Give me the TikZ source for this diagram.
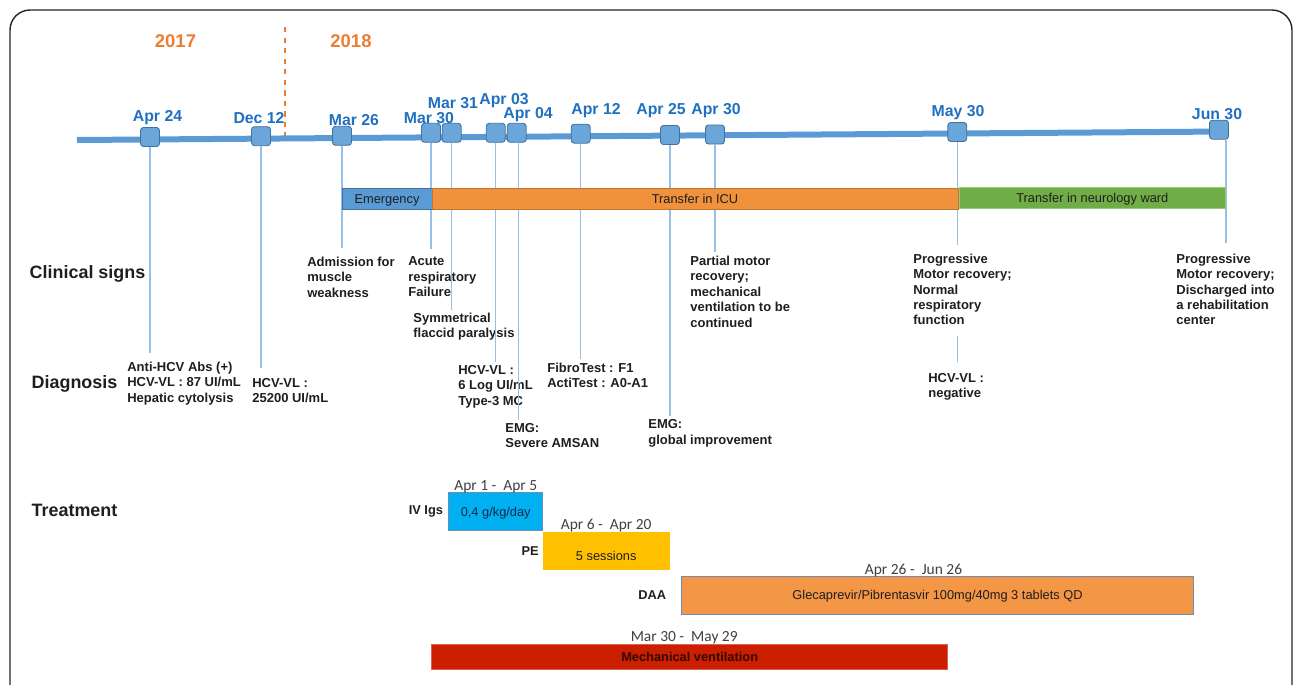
\documentclass[tikz,border=0pt]{standalone}
\usepackage{fontspec}
\setmainfont{Liberation Sans}
\newfontfamily\calibri{Carlito}
\usetikzlibrary{positioning,calc}
\definecolor{tlblue}{RGB}{91,155,213}
\definecolor{mkfill}{RGB}{107,166,218}
\definecolor{mkdraw}{RGB}{65,113,156}
\definecolor{tickblue}{RGB}{150,192,232}
\definecolor{datecol}{RGB}{31,112,193}
\definecolor{yearcol}{RGB}{237,125,49}
\definecolor{emcol}{RGB}{91,155,213}
\definecolor{icucol}{RGB}{240,145,60}
\definecolor{neurocol}{RGB}{112,173,71}
\definecolor{ivigcol}{RGB}{0,176,240}
\definecolor{ivigtext}{RGB}{20,40,70}
\definecolor{pecol}{RGB}{255,192,0}
\definecolor{daacol}{RGB}{243,150,70}
\definecolor{daadraw}{RGB}{110,140,180}
\definecolor{mvcol}{RGB}{204,30,0}
\definecolor{mvtext}{RGB}{50,10,0}
\definecolor{txtdark}{RGB}{30,30,30}
\definecolor{spangray}{RGB}{64,64,64}
\tikzset{
frame/.style = {draw=black!85, line width=0.8pt, rounded corners=0.4cm},
axis/.style = {draw=tlblue, line width=0.12cm},
yearsep/.style = {draw=yearcol, dashed, line width=0.8pt},
year/.style = {text=yearcol, font=\fontsize{10.5}{12}\selectfont\bfseries, inner sep=0pt},
marker/.style = {draw=mkdraw, fill=mkfill, rounded corners=0.06cm, minimum size=0.38cm, inner sep=0pt, line width=0.5pt},
datelbl/.style = {text=datecol, font=\fontsize{9}{10}\selectfont\bfseries, inner sep=0pt},
tick/.style = {draw=tickblue, line width=0.7pt},
desc/.style = {text=txtdark, font=\fontsize{7.4}{8.8}\selectfont\bfseries, align=left, anchor=north west, inner sep=0pt},
rowlbl/.style = {text=txtdark, font=\fontsize{10.2}{12}\selectfont\bfseries, inner sep=0pt},
phase/.style = {text=txtdark, font=\fontsize{7.3}{8}\selectfont, minimum height=0.42cm, inner sep=0pt, line width=0.4pt, text height=0.18cm, text depth=0pt},
treat/.style = {text=txtdark, font=\fontsize{7.3}{8}\selectfont, inner sep=0pt, line width=0.4pt, text height=0.18cm, text depth=0pt},
treatlbl/.style = {text=txtdark, font=\fontsize{7.3}{8}\selectfont\bfseries, inner sep=0pt},
span/.style = {text=spangray, font=\calibri\fontsize{8.8}{10}\selectfont, inner sep=0pt}
}
\begin{document}
\begin{tikzpicture}[x=0.02cm, y=-0.02cm, node distance=0.1cm]
    \useasboundingbox (0,0) rectangle (1295,684);
    \draw [frame] (10,10) rectangle (1292,740);
    \node [year] (y2017) at (175.5,41) {2017};
    \node [year] (y2018) at (351,41) {2018};
    \coordinate (septop) at (285,27);
    \coordinate (sepbot) at (285,138);
    \draw [yearsep] (septop) -- (sepbot);
    \coordinate (tlstart) at (77,140);
    \coordinate (tlend) at (1226,131.5);
    \draw [axis] (tlstart) -- (tlend);

    \node [marker] (apr24) at (150,137) {};
    \node [marker] (dec12) at (261,136.2) {};
    \node [marker] (mar26) at (342,135.8) {};
    \node [marker] (mar30) at (431,132.8) {};
    \node [marker] (mar31) at (451.7,132.8) {};
    \node [marker] (apr03) at (495.7,132.8) {};
    \node [marker] (apr04) at (516.7,132.8) {};
    \node [marker] (apr12) at (580.7,133.7) {};
    \node [marker] (apr25) at (670,135) {};
    \node [marker] (apr30) at (715,134.5) {};
    \node [marker] (may30) at (957.3,132) {};
    \node [marker] (jun30) at (1219,129.7) {};

    \node [datelbl] (lapr24) at (157.5,118) {Apr 24};
    \node [datelbl] (ldec12) at (259,118) {Dec 12};
    \node [datelbl] (lmar26) at (354,120) {Mar 26};
    \node [datelbl] (lmar30) at (429,118) {Mar 30};
    \node [datelbl] (lmar31) at (453,103.5) {Mar 31};
    \node [datelbl] (lapr03) at (504,100.5) {Apr 03};
    \node [datelbl] (lapr04) at (528,115) {Apr 04};
    \node [datelbl] (lapr12) at (596,111) {Apr 12};
    \node [datelbl] (lapr25) at (661,111) {Apr 25};
    \node [datelbl] (lapr30) at (716,111) {Apr 30};
    \node [datelbl] (lmay30) at (958,112.7) {May 30};
    \node [datelbl] (ljun30) at (1217,114) {Jun 30};

    \node [rowlbl] (clinical) at (87.5,274) {Clinical signs};
    \node [rowlbl] (diagnosis) at (74.5,384) {Diagnosis};
    \node [rowlbl] (treatment) at (74.5,510) {Treatment};

    \node [desc] (admission) at (307,256.5) {Admission for\\muscle\\weakness};
    \node [desc] (acute) at (408,256.5) {Acute\\respiratory\\Failure};
    \node [desc] (symmetric) at (413,312.3) {Symmetrical\\flaccid paralysis};
    \node [desc] (partial) at (690,255.7) {Partial motor\\recovery;\\mechanical\\ventilation to be\\continued};
    \node [desc] (progress1) at (913,253.3) {Progressive\\Motor recovery;\\Normal\\respiratory\\function};
    \node [desc] (progress2) at (1176,253.3) {Progressive\\Motor recovery;\\Discharged into\\a rehabilitation\\center};
    \node [desc] (antihcv) at (127,361.7) {Anti-HCV Abs (+)\\HCV-VL : 87 UI/mL\\Hepatic cytolysis};
    \node [desc] (vlhigh) at (252,377.7) {HCV-VL :\\25200 UI/mL};
    \node [desc] (vllog) at (458,365) {HCV-VL :\\6 Log UI/mL\\Type-3 MC};
    \node [desc] (emgsevere) at (505,422.7) {EMG:\\Severe AMSAN};
    \node [desc] (fibro) at (547,362.3) {FibroTest : F1\\ActiTest : A0-A1};
    \node [desc] (emgglobal) at (648,419.3) {EMG:\\global improvement};
    \node [desc] (vlneg) at (928,372.7) {HCV-VL :\\negative};

    \draw [tick, shorten >=0.18cm] (apr24.south) -- (apr24 |- antihcv.north);
    \draw [tick, shorten >=0.2cm] (dec12.south) -- (dec12 |- vlhigh.north);
    \draw [tick, shorten >=0.17cm] (mar26.south) -- (mar26 |- admission.north);
    \draw [tick, shorten >=0.15cm] (mar30.south) -- (mar30 |- acute.north);
    \draw [tick, shorten >=0.04cm] (mar31.south) -- (mar31 |- symmetric.north);
    \draw [tick, shorten >=0.06cm] (apr03.south) -- (apr03 |- vllog.north);
    \draw [tick, shorten >=0.06cm] ([xshift=0.04cm]apr04.south) -- ([xshift=0.04cm]apr04 |- emgsevere.north);
    \draw [tick, shorten >=0.06cm] (apr12.south) -- (apr12 |- fibro.north);
    \draw [tick, shorten >=0.06cm] (apr25.south) -- (apr25 |- emgglobal.north);
    \draw [tick, shorten >=0.08cm] (apr30.south) -- (apr30 |- partial.north);
    \draw [tick, shorten >=0.16cm] (may30.south) -- (may30 |- progress1.north);
    \draw [tick, shorten <=0.22cm, shorten >=0.22cm] (may30 |- progress1.south) -- (may30 |- vlneg.north);
    \draw [tick, shorten >=0.2cm] ([xshift=0.14cm]jun30.south) -- ([xshift=0.14cm]jun30 |- progress2.north);

    \node [phase, fill=emcol, draw=mkdraw, minimum width=1.8cm] (emergency) at (387,198.5) {Emergency};
    \node [phase, fill=icucol, draw=icucol!80!black, minimum width=10.52cm] (icu) at (695,198.5) {Transfer in ICU};
    \node [phase, fill=neurocol, draw=neurocol!70!white, minimum width=5.33cm] (neuro) at (1092.3,198) {Transfer in neurology ward};

    \node [treat, fill=ivigcol, draw=daadraw, text=ivigtext, minimum width=1.88cm, minimum height=0.77cm] (ivig) at (495.7,511.5) {0,4 g/kg/day};
    \node [treatlbl, left=0.1cm of ivig] (ivlbl) {IV Igs};
    \node [span, above=-1pt of ivig] (ivdate) {Apr 1 - \ Apr 5};
    \node [treat, fill=pecol, draw=pecol, minimum width=2.51cm, minimum height=0.74cm, text height=0.4cm] (pe) at (606.2,550.8) {5 sessions};
    \node [treatlbl, left=0.08cm of pe] (pelbl) {PE};
    \node [span, above=0pt of pe] (pedate) {Apr 6 - \ Apr 20};
    \node [treat, fill=daacol, draw=daadraw, minimum width=10.23cm, minimum height=0.76cm] (daa) at (937.5,595) {Glecaprevir/Pibrentasvir 100mg/40mg 3 tablets QD};
    \node [treatlbl, left=0.3cm of daa] (daalbl) {DAA};
    \node [span, above=-1pt of daa, xshift=-0.48cm] (daadate) {Apr 26 - \ Jun 26};
    \node [treat, fill=mvcol, draw=mvcol!70!white, text=mvtext, font=\fontsize{7.3}{8}\selectfont\bfseries, minimum width=10.32cm, minimum height=0.5cm] (mv) at (689.7,656.8) {Mechanical ventilation};
    \node [span, above=0pt of mv, xshift=-0.11cm] (mvdate) {Mar 30 - \ May 29};
\end{tikzpicture}
\end{document}
